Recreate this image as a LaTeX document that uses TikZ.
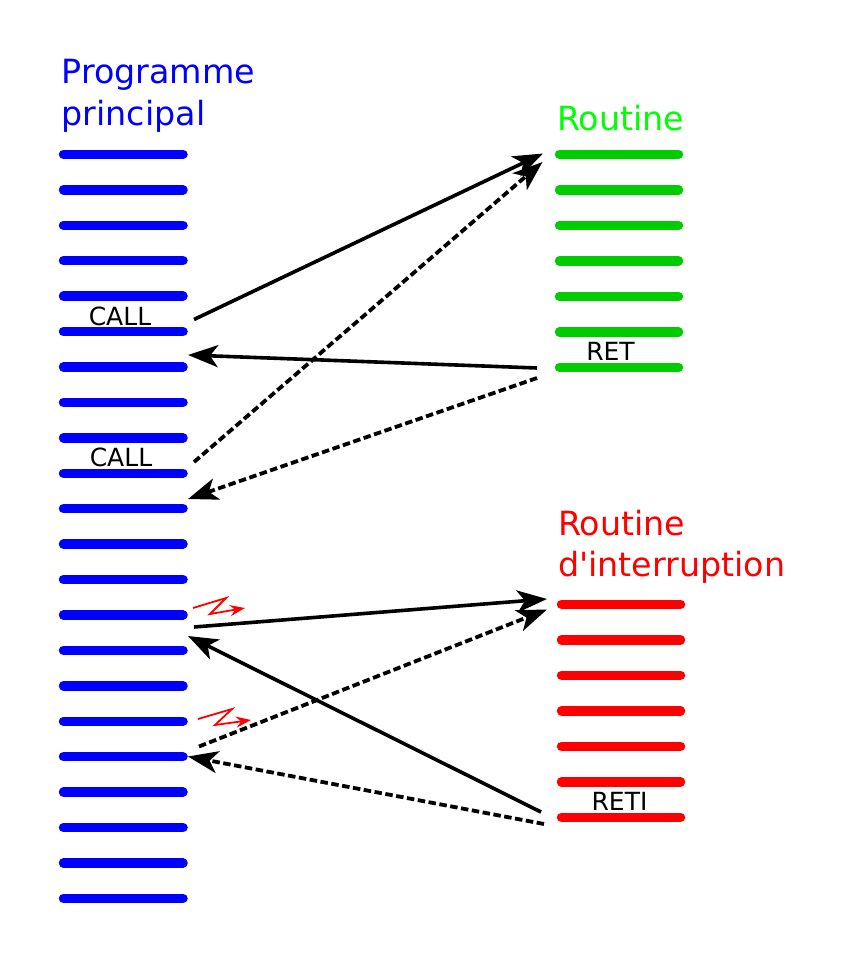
\documentclass[tikz,border=0pt]{standalone}
\usepackage{fontspec}
\setmainfont{DejaVu Sans}
\usetikzlibrary{arrows.meta}
\definecolor{routinegreen}{RGB}{0,204,0}
\tikzset{
  instr/.style={line width=9.5pt,line cap=round},
  lien/.style={black,line width=3.6pt,-{Stealth[length=30pt,width=22pt,inset=8pt]}},
  lienpt/.style={lien,line width=3.8pt,dash pattern=on 7.5pt off 3.5pt},
  eclair/.style={red,line width=1.8pt,-{Stealth[length=15pt,width=11pt,inset=5pt]}},
  titre/.style={anchor=base west,font=\fontsize{33.3pt}{42pt}\selectfont,inner sep=0pt},
  mnemo/.style={font=\fontsize{25pt}{30pt}\selectfont,inner sep=0pt,black}
}
\begin{document}
\begin{tikzpicture}[x=1pt,y=-1pt]
  \useasboundingbox (0,0) rectangle (842,963);
  \foreach \i in {0,...,21} \draw[instr,blue] (63.5,154.4+35.43*\i) -- (183,154.4+35.43*\i);
  \foreach \i in {0,...,6} \draw[instr,routinegreen] (559.5,154.4+35.5*\i) -- (678.5,154.4+35.5*\i);
  \foreach \i in {0,...,6} \draw[instr,red] (561.5,604.3+35.5*\i) -- (680.5,604.3+35.5*\i);

  \node[titre,blue] (prog1) at (61.5,84) {Programme};
  \node[titre,blue] (prog2) at (61.5,125) {principal};
  \node[titre,green] (rout) at (557,131) {Routine};
  \node[titre,red] (inter1) at (558,535) {Routine};
  \node[titre,red] (inter2) at (558,576) {d\textquotesingle interruption};

  \node[mnemo] (call1) at (120,316) {CALL};
  \node[mnemo] (call2) at (121,457) {CALL};
  \node[mnemo] (ret) at (610.5,351) {RET};
  \node[mnemo] (reti) at (619.5,801) {RETI};

  \coordinate (dep1) at (194,319.5);
  \coordinate (dep2) at (194,462);
  \coordinate (rt1) at (543,153.5);
  \coordinate (rt2) at (542.5,162);
  \coordinate (retA) at (537,368);
  \coordinate (retB) at (537,378);
  \coordinate (ap1) at (188,355);
  \coordinate (ap2) at (188,499);
  \coordinate (dep3) at (194,627);
  \coordinate (dep4) at (199,746.5);
  \coordinate (it1) at (547,599);
  \coordinate (it2) at (547,609.5);
  \coordinate (retiA) at (541,812);
  \coordinate (retiB) at (544,824);
  \coordinate (ap3) at (188,636);
  \coordinate (ap4) at (188,756.5);

  \draw[lien] (dep1) -- (rt1);
  \draw[lienpt] (dep2) -- (rt2);
  \draw[lien] (retA) -- (ap1);
  \draw[lienpt] (retB) -- (ap2);
  \draw[lien] (dep3) -- (it1);
  \draw[lienpt] (dep4) -- (it2);
  \draw[lien] (retiA) -- (ap3);
  \draw[lienpt] (retiB) -- (ap4);

  % les deux signaux
  \draw[eclair] (193,608) -- (226,598) -- (210,614) -- (245,608);
  \draw[eclair] (198,719) -- (232,709) -- (215,725) -- (251,720);
\end{tikzpicture}
\end{document}
